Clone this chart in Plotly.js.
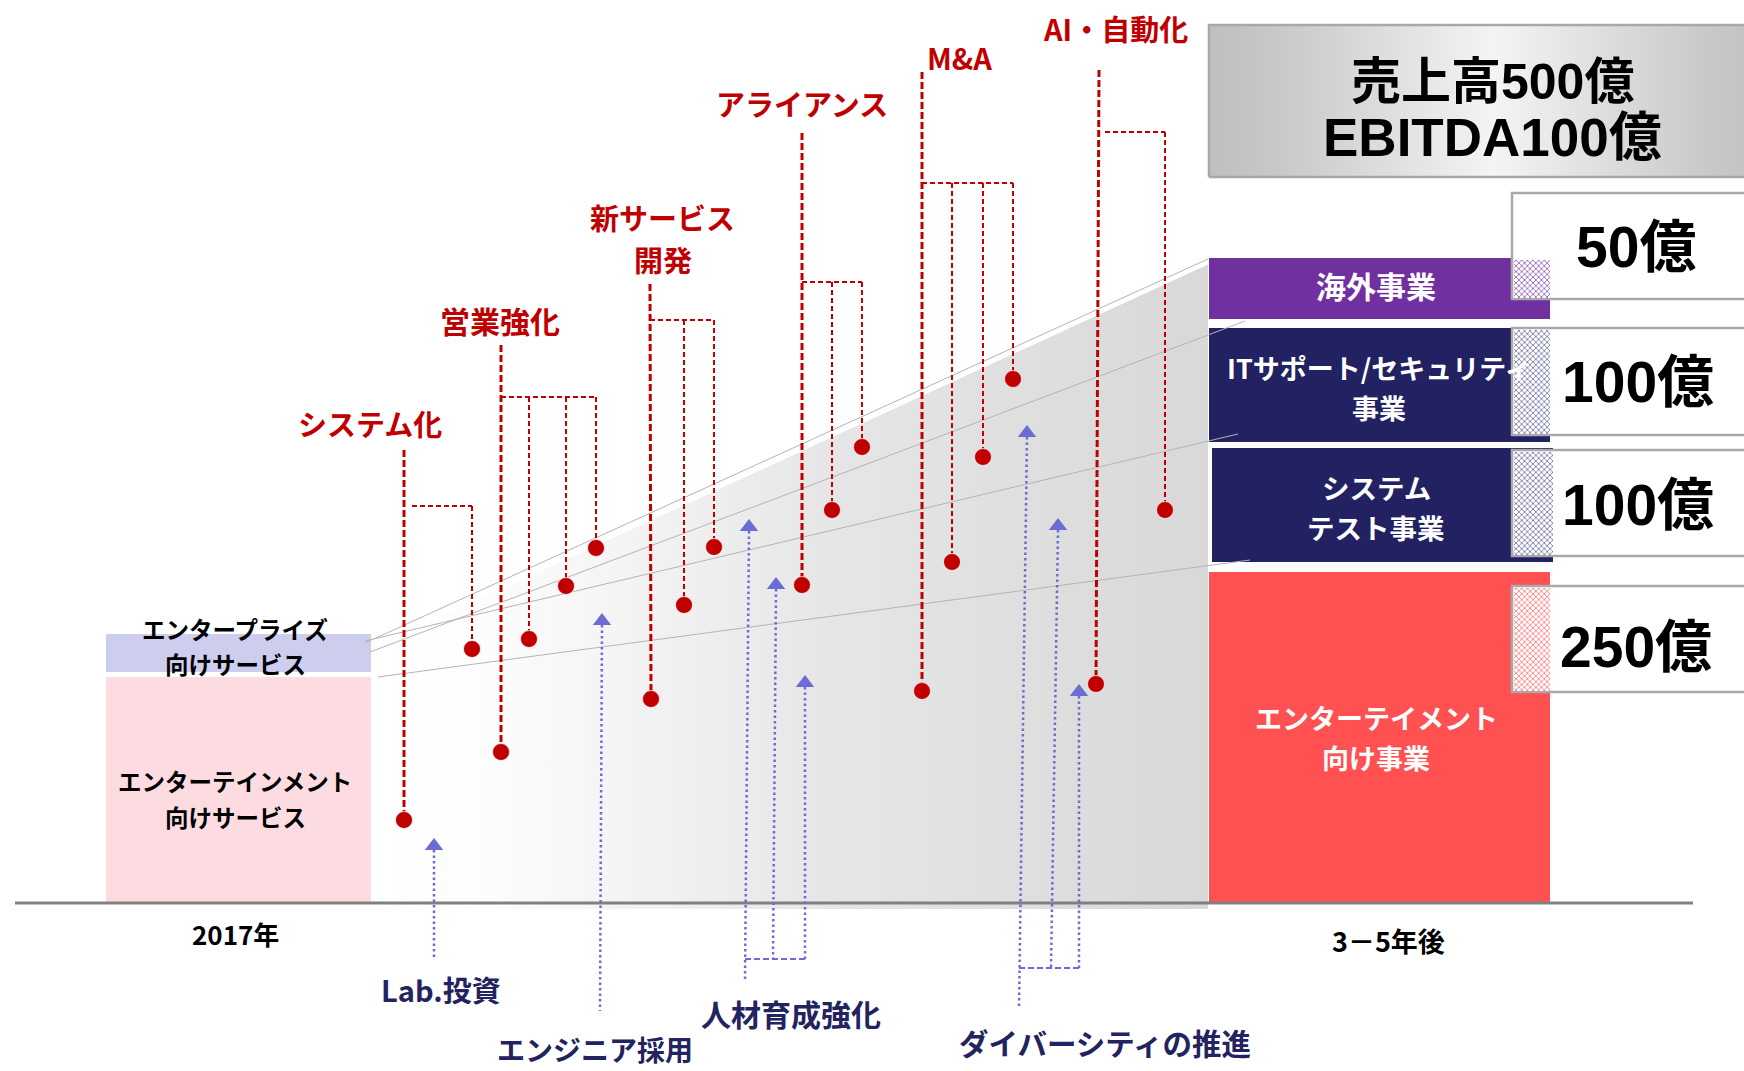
<!DOCTYPE html>
<html><head><meta charset="utf-8">
<script src="https://cdn.plot.ly/plotly-3.0.1.min.js"></script>
<style>html,body{margin:0;padding:0;background:#fff}#chart{width:1744px;height:1071px}</style>
</head><body><div id="chart"></div>
<script>
// ================= DATA (height above the baseline, x along the timeline) =================
// 2017 business mix (left stack) - one entry per text line
const leftSegments = ['エンターテインメント', '向けサービス', 'エンタープライズ', '向けサービス'];
const leftBase = [0, 231];
const leftTop = [226, 269];

// 3-5 years later business mix (right stack)
const rightSegments = ['エンターテイメント', '向け事業', 'システム', 'テスト事業', 'ITサポート/セキュリティ', '事業', '海外事業'];
const rightValues = ['250億', '100億', '100億', '50億'];
const rightBase = [0, 341, 461, 584];
const rightTop = [331, 455, 575, 645];
const valueBoxBase = [211, 347, 468, 604];
const valueBoxTop = [317, 453, 575, 710];

const goalLines = ['売上高500億', 'EBITDA100億'];
const periodLabels = ['2017年', '3－5年後'];

// growth drivers (red): label lines, main stem and branches
const initiativeLines = ['システム化', '営業強化', '新サービス', '開発', 'アライアンス', 'M&amp;A', 'AI・自動化'];
const initiativeLabelX = [370, 500, 662, 663, 802, 959, 1115];
const initiativeLabelH = [480, 583, 686, 644, 800, 846, 875];
const stemX = [404, 501, 650, 802, 922, 1099];
const stemXBottom = [404, 501, 651, 802, 922, 1096];
const stemTopH = [453, 558, 619, 770, 831, 833];
const stemDotH = [83, 151, 204, 318, 212, 219];
const forkH = [397, 506, 583, 621, 720, 771];
const forkStartX = [412, 501, 650, 802, 922, 1105];
const branchX = [[472], [529, 566, 596], [684, 714], [832, 862], [952, 983, 1013], [1165]];
const branchDotH = [[254], [264, 317, 355], [298, 356], [393, 456], [341, 446, 524], [393]];

// foundations (blue arrows)
const foundations = ['Lab.投資', 'エンジニア採用', '人材育成強化', 'ダイバーシティの推進'];
const foundationLabelX = [441, 595, 791, 1105];
const foundationLabelH = [-86, -146, -110, -139];
const arrowHeadX = [[434], [602], [749, 776, 805], [1027, 1058, 1079]];
const arrowFootX = [[434], [600], [745, 773, 805], [1019, 1051, 1079]];
const arrowHeadH = [[57], [282], [376, 318, 220], [470, 377, 211]];
const arrowFootH = [[-54], [-108], [-76, -56, -56], [-105, -65, -65]];
const bracketH = [null, null, -56, -65];

// perspective guide lines from the 2017 stack to the future stack
const guideX0 = [365, 370, 365, 378];
const guideH0 = [260, 251, 262, 226];
const guideX1 = [1208, 1245, 1238, 1250];
const guideH1 = [644, 582, 469, 343];

// ================= LAYOUT CONSTANTS =================
const FONT = '"Noto Sans CJK JP", "Noto Sans", sans-serif';
const NUMFONT = '"Liberation Sans", Arial, "Noto Sans CJK JP", sans-serif';
const RED = '#c00000', BLUE = '#6c6cd4', NAVYTXT = '#22235f';
const leftX = [106, 371];
const rightX0 = [1209, 1212, 1209, 1209];
const rightX1 = [1550, 1553, 1550, 1550];
const rightColors = ['#ff5151', '#222162', '#222162', '#7030a0'];
const hatchColors = ['#ff5151', '#4a4a8a', '#4a4a8a', '#7030a0'];
const leftColors = ['#fcdce0', '#cdcdee'];
const valueBoxX = [1512, 1775];

const traces = [];
function bar(x0, x1, b, t, marker) {
  return {type: 'bar', x: [(x0 + x1) / 2], y: [t - b], base: [b], width: [x1 - x0],
    marker: marker, hoverinfo: 'skip', showlegend: false};
}
// left stack
leftBase.forEach((b, i) => traces.push(bar(leftX[0], leftX[1], b, leftTop[i], {color: leftColors[i], line: {width: 0}})));
// right stack
rightBase.forEach((b, i) => traces.push(bar(rightX0[i], rightX1[i], b, rightTop[i], {color: rightColors[i], line: {width: 0}})));
// value boxes
rightValues.forEach((v, i) => traces.push(bar(valueBoxX[0], valueBoxX[1], valueBoxBase[i], valueBoxTop[i], {color: '#ffffff', line: {color: '#a9a9a9', width: 2.5}})));
// hatched overlap
rightValues.forEach((v, i) => {
  const b = Math.max(valueBoxBase[i], rightBase[i]) + 1.5;
  const t = Math.min(valueBoxTop[i], rightTop[i]) - 1.5;
  traces.push(bar(valueBoxX[0] + 1.5, rightX1[i], b, t, {color: '#ffffff', line: {width: 0},
    pattern: {shape: 'x', fgcolor: hatchColors[i], bgcolor: '#ffffff', size: 4, solidity: 0.3, fillmode: 'replace'}}));
});

// background gradient wedge
const wedgeX = [guideX0[0] + 6, guideX1[0], guideX1[0], guideX0[0] + 6, guideX0[0] + 6];
const wedgeH = [guideH0[0] - 5, guideH1[0] - 4, -6, -6, guideH0[0] - 5];
traces.push({type: 'scatter', mode: 'lines', x: wedgeX, y: wedgeH, fill: 'toself',
  fillgradient: {type: 'horizontal', start: wedgeX[0], stop: wedgeX[1],
    colorscale: [[0, '#ffffff'], [0.15, '#fcfcfc'], [0.55, '#e6e6e6'], [1, '#d8d8d8']]},
  line: {width: 0, color: 'rgba(0,0,0,0)'}, hoverinfo: 'skip', showlegend: false});
// white highlight along wedge top
traces.push({type: 'scatter', mode: 'lines', x: [wedgeX[0], wedgeX[1]], y: [wedgeH[0], wedgeH[1]],
  line: {color: '#ffffff', width: 2.5}, hoverinfo: 'skip', showlegend: false});
// guide lines
const gx = [], gy = [];
guideX0.forEach((x, i) => { gx.push(x, guideX1[i], null); gy.push(guideH0[i], guideH1[i], null); });
traces.push({type: 'scatter', mode: 'lines', x: gx, y: gy, line: {color: '#b4b4b4', width: 1}, hoverinfo: 'skip', showlegend: false});

// goal box
traces.push({type: 'scatter', mode: 'lines', x: [1209, 1780, 1780, 1209, 1209], y: [726, 726, 878, 878, 726], fill: 'toself',
  fillgradient: {type: 'horizontal', start: 1209, stop: 1780,
    colorscale: [[0, '#bfbfbf'], [0.12, '#c8c8c8'], [0.5, '#f4f4f4'], [0.88, '#c8c8c8'], [1, '#bfbfbf']]},
  line: {color: '#a8a8a8', width: 2.5}, hoverinfo: 'skip', showlegend: false});

// baseline
traces.push({type: 'scatter', mode: 'lines', x: [15, 1693], y: [0, 0], line: {color: '#808080', width: 3}, hoverinfo: 'skip', showlegend: false});

// red initiatives
const sx = [], sy = [], bxs = [], bys = [], dx = [], dy = [];
stemX.forEach((x0, i) => {
  sx.push(x0, stemXBottom[i], null); sy.push(stemTopH[i], stemDotH[i], null);
  dx.push(stemXBottom[i]); dy.push(stemDotH[i]);
  const br = branchX[i];
  bxs.push(forkStartX[i], br[br.length - 1], null); bys.push(forkH[i], forkH[i], null);
  br.forEach((x, j) => { bxs.push(x, x, null); bys.push(forkH[i], branchDotH[i][j], null); dx.push(x); dy.push(branchDotH[i][j]); });
});
traces.push({type: 'scatter', mode: 'lines', x: sx, y: sy, line: {color: RED, width: 3, dash: '7px,3px'}, hoverinfo: 'skip', showlegend: false});
traces.push({type: 'scatter', mode: 'lines', x: bxs, y: bys, line: {color: RED, width: 2, dash: '5px,3px'}, hoverinfo: 'skip', showlegend: false});
traces.push({type: 'scatter', mode: 'markers', x: dx, y: dy, marker: {color: RED, size: 17, line: {color: 'rgba(255,255,255,0.7)', width: 1}}, hoverinfo: 'skip', showlegend: false});

// blue foundations
const ax = [], ay = [], kx = [], ky = [], hx = [], hy = [];
foundations.forEach((n, i) => {
  arrowHeadX[i].forEach((x, j) => {
    ax.push(x, arrowFootX[i][j], null); ay.push(arrowHeadH[i][j] - 4, arrowFootH[i][j], null);
    hx.push(x); hy.push(arrowHeadH[i][j]);
  });
  if (bracketH[i] !== null) {
    const f = arrowFootX[i];
    kx.push(f[0], f[f.length - 1], null); ky.push(bracketH[i], bracketH[i], null);
  }
});
traces.push({type: 'scatter', mode: 'lines', x: ax, y: ay, line: {color: BLUE, width: 2.5, dash: '2.5px,3px'}, hoverinfo: 'skip', showlegend: false});
traces.push({type: 'scatter', mode: 'lines', x: kx, y: ky, line: {color: BLUE, width: 2, dash: '6px,3px'}, hoverinfo: 'skip', showlegend: false});
traces.push({type: 'scatter', mode: 'markers', x: hx, y: hy, marker: {symbol: 'triangle-up', color: BLUE, size: 16, line: {width: 0}}, hoverinfo: 'skip', showlegend: false});

// ================= TEXT =================
const ann = [];
function txt(x, h, text, size, color, family, weight) {
  ann.push({x: x, y: h, xref: 'x', yref: 'y', text: text, showarrow: false, xanchor: 'center', yanchor: 'middle',
    borderpad: 0, font: {family: family || FONT, size: size, color: color, weight: weight || 'bold'}});
}
const leftTextH = [122, 86, 274, 239];
leftSegments.forEach((s, i) => txt(235, leftTextH[i], s, 23.5, '#000000'));
txt(235, -30, periodLabels[0], 26, '#000000');
txt(1388, -37, periodLabels[1], 27, '#000000');
const rightTextX = [1376, 1376, 1376, 1376, 1379, 1379, 1376];
const rightTextH = [186, 146, 416, 376, 536, 496, 618];
const rightTextSize = [27, 27, 27.5, 27.5, 27, 27, 30];
rightSegments.forEach((s, i) => txt(rightTextX[i], rightTextH[i], s, rightTextSize[i], '#ffffff'));
const valueTextX = [1636, 1638, 1638, 1636];
const valueTextH = [256, 398, 521, 656];
rightValues.forEach((v, i) => txt(valueTextX[i], valueTextH[i], v, 57, '#000000', NUMFONT));
const goalH = [821, 766];
const goalSize = [50, 53];
goalLines.forEach((g, i) => txt(1492, goalH[i], g, goalSize[i], '#000000', NUMFONT));
const initiativeSize = [29, 30, 29, 29, 29, 29, 29];
initiativeLines.forEach((n, i) => txt(initiativeLabelX[i], initiativeLabelH[i], n, initiativeSize[i], RED));
const foundationSize = [29, 28, 30, 29.5];
foundations.forEach((n, i) => txt(foundationLabelX[i], foundationLabelH[i], n, foundationSize[i], NAVYTXT));

const layout = {
  width: 1744, height: 1071, margin: {l: 0, r: 0, t: 0, b: 0},
  paper_bgcolor: '#ffffff', plot_bgcolor: '#ffffff', showlegend: false, hovermode: false,
  barmode: 'overlay', bargap: 0,
  xaxis: {range: [0, 1744], visible: false, fixedrange: true},
  yaxis: {range: [-168, 903], visible: false, fixedrange: true},
  annotations: ann
};
Plotly.newPlot('chart', traces, layout, {displayModeBar: false, staticPlot: true});
</script></body></html>
